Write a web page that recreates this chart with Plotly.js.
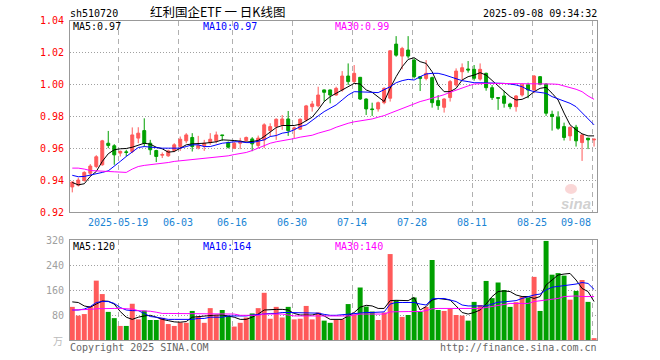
<!DOCTYPE html>
<html><head><meta charset="utf-8">
<script src="https://cdn.plot.ly/plotly-3.0.1.min.js"></script>
<style>html,body{margin:0;padding:0;background:#fff}#c{width:660px;height:360px}</style>
</head><body><div id="c"></div>
<script>
// ---- data ----
const tickLabels = ['2025-05-19','06-03','06-16','06-30','07-14','07-28','08-11','08-25','09-08'];
const tickIdx    = [8,18,27,37,47,57,67,77,87];

const open = [0.9357,0.9368,0.9398,0.9443,0.9485,0.9496,0.9631,0.9615,0.9569,0.9577,
0.9579,0.9663,0.9710,0.9631,0.9585,0.9556,0.9552,0.9585,0.9610,0.9646,
0.9667,0.9602,0.9615,0.9635,0.9646,0.9683,0.9635,0.9600,0.9631,0.9648,
0.9658,0.9617,0.9652,0.9710,0.9735,0.9746,0.9783,0.9719,0.9719,0.9777,
0.9860,0.9865,0.9965,0.9965,0.9933,0.9965,1.0052,1.0017,1.0044,0.9908,
0.9846,0.9846,0.9885,0.9913,1.0252,1.0177,1.0215,1.0152,1.0048,1.0037,
1.0042,0.9898,0.9856,0.9917,0.9996,1.0079,1.0096,1.0094,1.0033,1.0069,
0.9979,0.9917,0.9927,0.9877,0.9860,0.9933,0.9996,0.9965,1.0048,1.0002,
0.9812,0.9794,0.9735,0.9677,0.9731,0.9635,0.9663,0.9652];
const high = [0.9392,0.9415,0.9455,0.9500,0.9556,0.9652,0.9708,0.9625,0.9585,0.9590,
0.9730,0.9731,0.9787,0.9652,0.9590,0.9573,0.9590,0.9631,0.9673,0.9694,
0.9694,0.9677,0.9652,0.9694,0.9704,0.9683,0.9642,0.9640,0.9665,0.9673,
0.9669,0.9679,0.9756,0.9756,0.9787,0.9808,0.9833,0.9735,0.9787,0.9871,
0.9896,0.9985,0.9967,0.9967,0.9985,1.0083,1.0131,1.0121,1.0046,0.9912,
0.9885,0.9892,0.9981,1.0215,1.0302,1.0235,1.0302,1.0163,1.0048,1.0152,
1.0048,0.9933,0.9913,1.0027,1.0100,1.0131,1.0146,1.0121,1.0131,1.0073,
0.9996,0.9917,0.9960,0.9885,0.9933,1.0006,1.0010,1.0058,1.0052,1.0006,
0.9835,0.9831,0.9760,0.9735,0.9746,0.9690,0.9663,0.9660];
const low = [0.9323,0.9360,0.9390,0.9425,0.9475,0.9490,0.9600,0.9496,0.9548,0.9548,
0.9569,0.9631,0.9610,0.9558,0.9513,0.9538,0.9546,0.9575,0.9583,0.9631,
0.9579,0.9592,0.9583,0.9621,0.9631,0.9646,0.9598,0.9594,0.9594,0.9640,
0.9581,0.9600,0.9600,0.9673,0.9652,0.9715,0.9677,0.9663,0.9715,0.9767,
0.9829,0.9856,0.9892,0.9881,0.9929,0.9954,0.9996,1.0006,0.9902,0.9808,
0.9802,0.9829,0.9875,0.9892,1.0173,1.0094,1.0163,1.0037,0.9958,1.0025,
0.9854,0.9840,0.9823,0.9892,0.9985,1.0027,1.0073,1.0023,1.0023,0.9960,
0.9902,0.9840,0.9854,0.9844,0.9829,0.9923,0.9913,0.9944,0.9994,0.9802,
0.9710,0.9715,0.9648,0.9646,0.9610,0.9520,0.9594,0.9610];
const close = [0.9388,0.9400,0.9448,0.9488,0.9546,0.9646,0.9617,0.9558,0.9580,0.9573,
0.9683,0.9694,0.9631,0.9590,0.9548,0.9560,0.9583,0.9621,0.9656,0.9683,
0.9610,0.9617,0.9631,0.9656,0.9683,0.9679,0.9606,0.9631,0.9644,0.9667,
0.9627,0.9663,0.9746,0.9735,0.9781,0.9783,0.9710,0.9727,0.9781,0.9865,
0.9877,0.9933,0.9950,0.9933,0.9975,1.0052,1.0017,1.0069,0.9908,0.9846,
0.9842,0.9885,0.9975,1.0210,1.0183,1.0225,1.0177,1.0048,1.0037,1.0069,
0.9885,0.9867,0.9908,1.0017,1.0083,1.0104,1.0090,1.0038,1.0094,0.9979,
0.9917,0.9913,0.9881,0.9860,0.9927,0.9996,0.9965,1.0052,1.0002,0.9819,
0.9798,0.9725,0.9667,0.9731,0.9646,0.9683,0.9652,0.9656];

const ma5 = [0.9385,0.9370,0.9377,0.9423,0.9454,0.9517,0.9565,0.9590,0.9596,0.9598,
0.9606,0.9621,0.9631,0.9625,0.9606,0.9596,0.9575,0.9579,0.9600,0.9621,
0.9627,0.9627,0.9631,0.9635,0.9640,0.9652,0.9652,0.9648,0.9644,0.9638,
0.9642,0.9648,0.9673,0.9704,0.9729,0.9742,0.9742,0.9742,0.9750,0.9773,
0.9794,0.9840,0.9892,0.9923,0.9944,0.9965,0.9985,1.0006,1.0002,0.9965,
0.9950,0.9923,0.9892,0.9975,1.0048,1.0110,1.0156,1.0167,1.0142,1.0131,
1.0079,0.9996,0.9954,0.9954,0.9975,1.0027,1.0048,1.0058,1.0073,1.0058,
1.0023,0.9990,0.9954,0.9923,0.9902,0.9906,0.9923,0.9954,0.9975,0.9981,
0.9944,0.9902,0.9820,0.9746,0.9715,0.9690,0.9677,0.9677];
const ma10 = [0.9430,0.9421,0.9423,0.9430,0.9437,0.9448,0.9458,0.9485,0.9517,0.9548,
0.9579,0.9604,0.9610,0.9606,0.9600,0.9600,0.9600,0.9600,0.9600,0.9610,
0.9621,0.9621,0.9610,0.9610,0.9619,0.9631,0.9635,0.9640,0.9640,0.9635,
0.9635,0.9642,0.9652,0.9673,0.9679,0.9694,0.9700,0.9715,0.9735,0.9746,
0.9777,0.9802,0.9829,0.9850,0.9871,0.9902,0.9933,0.9954,0.9954,0.9950,
0.9950,0.9948,0.9965,0.9985,1.0010,1.0023,1.0031,1.0027,1.0048,1.0065,
1.0069,1.0069,1.0060,1.0048,1.0038,1.0023,1.0017,1.0010,1.0010,1.0010,
1.0010,1.0010,1.0006,1.0002,0.9996,0.9985,0.9965,0.9954,0.9950,0.9944,
0.9923,0.9908,0.9892,0.9881,0.9860,0.9823,0.9788,0.9746];
const ma30 = [0.9475,0.9475,0.9469,0.9460,0.9458,0.9454,0.9454,0.9452,0.9450,0.9448,
0.9469,0.9485,0.9492,0.9496,0.9500,0.9502,0.9510,0.9517,0.9521,0.9523,
0.9527,0.9531,0.9535,0.9540,0.9544,0.9548,0.9552,0.9560,0.9565,0.9573,
0.9585,0.9600,0.9615,0.9631,0.9640,0.9646,0.9652,0.9660,0.9669,0.9673,
0.9681,0.9694,0.9704,0.9715,0.9731,0.9746,0.9756,0.9765,0.9771,0.9777,
0.9783,0.9794,0.9804,0.9819,0.9833,0.9850,0.9865,0.9877,0.9892,0.9902,
0.9913,0.9923,0.9935,0.9950,0.9965,0.9979,0.9990,1.0002,1.0006,1.0006,
1.0006,1.0006,1.0006,1.0006,1.0006,1.0006,1.0006,1.0006,1.0006,1.0004,
1.0002,1.0000,0.9990,0.9981,0.9969,0.9954,0.9927,0.9906];

const volume = [106,78,83,108,190,147,90,70,45,45,116,66,94,64,64,71,51,45,56,55,
93,75,55,102,80,96,77,43,55,72,85,102,151,68,106,72,106,66,68,109,
66,88,62,55,64,66,115,82,168,107,91,64,88,275,127,74,80,136,91,106,
256,96,93,100,80,78,62,122,112,189,134,184,160,106,121,139,136,202,93,317,
209,214,206,129,157,192,122,6];
const vma5 = [122,120,109,105,115,125,124,115,91,73,66,73,77,79,73,66,62,58,57,59,
73,75,77,80,80,80,77,73,66,66,73,83,96,98,98,98,96,85,80,80,
80,85,77,66,66,66,77,88,105,111,109,101,101,126,127,126,126,136,96,107,
128,133,130,128,109,88,83,88,96,115,139,155,157,155,144,139,139,133,139,176,
192,208,211,213,192,165,155,123];
const vma10 = [96,96,99,107,120,123,123,117,104,96,94,94,85,75,73,69,66,66,66,66,
66,69,69,73,73,73,77,77,77,77,80,82,85,85,85,88,88,88,88,88,
88,86,82,79,79,81,83,85,88,88,88,88,90,115,120,120,120,120,115,112,
132,133,133,128,123,112,109,109,109,109,115,121,122,123,126,133,139,144,147,160,
169,171,173,176,179,184,181,162];
const vma30 = [96,96,96,98,100,101,101,101,101,101,99,94,94,92,89,85,85,85,85,85,
85,85,85,85,85,85,85,83,79,79,79,79,83,83,83,83,80,77,77,77,
77,77,77,75,75,75,77,80,83,83,83,83,83,90,91,91,91,91,91,94,
100,101,101,101,101,101,101,101,101,104,107,112,115,117,117,117,117,123,125,128,
130,133,139,141,141,139,139,139];

const priceTicks = [0.92,0.94,0.96,0.98,1.00,1.02,1.04];
const volTicks = [80,160,240,320];
const header = {code:'sh510720', title:'红利国企ETF 一 日K线图', time:'2025-09-08 09:34:32'};
const maLabels = ['MA5:0.97','MA10:0.97','MA30:0.99'];
const vmaLabels = ['MA5:120','MA10:164','MA30:140'];

// ---- drawing ----
const RED='#ff5a5a', GREEN='#00a000';
const idx = open.map((_, i) => i);
const volColors = open.map((o, i) => close[i] >= o ? RED : GREEN);
const W=660, H=360;
const px = x => x / W, py = y => 1 - y / H;
const MONO = 'DejaVu Sans Mono';

const traces = [
  {type:'candlestick', x:idx, open, high, low, close, xaxis:'x', yaxis:'y',
   increasing:{line:{color:RED,width:1}, fillcolor:RED},
   decreasing:{line:{color:GREEN,width:1}, fillcolor:GREEN},
   whiskerwidth:0, hoverinfo:'skip'},
  {type:'scatter', mode:'lines', x:idx, y:ma5, line:{color:'#000',width:1}, xaxis:'x', yaxis:'y', hoverinfo:'skip'},
  {type:'scatter', mode:'lines', x:idx, y:ma10, line:{color:'#0000ff',width:1}, xaxis:'x', yaxis:'y', hoverinfo:'skip'},
  {type:'scatter', mode:'lines', x:idx, y:ma30, line:{color:'#ff00ff',width:1}, xaxis:'x', yaxis:'y', hoverinfo:'skip'},
  {type:'bar', x:idx, y:volume, marker:{color:volColors, line:{width:0}}, width:0.83, xaxis:'x2', yaxis:'y2', hoverinfo:'skip'},
  {type:'scatter', mode:'lines', x:idx, y:vma5, line:{color:'#000',width:1}, xaxis:'x2', yaxis:'y2', hoverinfo:'skip'},
  {type:'scatter', mode:'lines', x:idx, y:vma10, line:{color:'#0000ff',width:1}, xaxis:'x2', yaxis:'y2', hoverinfo:'skip'},
  {type:'scatter', mode:'lines', x:idx, y:vma30, line:{color:'#ff00ff',width:1}, xaxis:'x2', yaxis:'y2', hoverinfo:'skip'}
];

const gridX = tickIdx.map(v => v - 0.33);
const xr = [-0.38, 87.49];
const xdom = [px(70), px(597)];
const xCommon = {range:xr, domain:xdom, tickmode:'array', tickvals:gridX, showticklabels:false, ticks:'',
  showgrid:true, gridcolor:'#b0b0b0', griddash:'5px,4px', gridwidth:1, zeroline:false,
  showline:true, linecolor:'#999', linewidth:1, mirror:true, fixedrange:true, rangeslider:{visible:false}};

const annotations = [];
const ann = (text, x, y, color, xanchor, size, family) => annotations.push({
  text, x, y, xref:'paper', yref:'paper', xanchor:xanchor||'left', yanchor:'middle', showarrow:false,
  font:{family:family||MONO, size:size||10, color:color||'#000'}, borderpad:0});

ann(header.code, px(69), py(14), '#000');
ann(header.title, px(149), py(11.5), '#000', 'left', 12.5, 'Noto Sans CJK SC');
ann(header.time, px(598), py(14), '#000', 'right');
const maColors = ['#000','#0000ff','#ff00ff'];
const maX = [72, 202, 334];
maLabels.forEach((t,k) => ann(t, px(maX[k]), py(26.5), maColors[k]));
vmaLabels.forEach((t,k) => ann(t, px(maX[k]), py(246), maColors[k]));
tickLabels.forEach((t,k) => {
  const last = k === tickLabels.length - 1;
  annotations.push({text:t, x:gridX[k], y:py(222), xref:'x', yref:'paper', xanchor: last ? 'right' : 'center',
    yanchor:'middle', showarrow:false, borderpad:0, font:{family:MONO, size:10, color:'#1a84d4'}});
});
ann('Copyright 2025 SINA.COM', px(69), py(347), '#666');
ann('http://finance.sina.com.cn', px(598), py(347), '#666', 'right');
ann('万', px(64), py(340), '#bbb', 'right', 10, 'Noto Sans CJK SC');
ann('<b><i>sina</i></b>', px(576), py(203), 'rgba(170,170,170,0.55)', 'center', 15, 'Liberation Sans');

const layout = {
  width:W, height:H, margin:{l:0,r:0,t:0,b:0}, paper_bgcolor:'#fff', plot_bgcolor:'#fff',
  showlegend:false, hovermode:false, dragmode:false, boxgap:0.3,
  xaxis: Object.assign({}, xCommon, {anchor:'y'}),
  xaxis2: Object.assign({}, xCommon, {anchor:'y2'}),
  yaxis: {domain:[py(212), py(20.5)], range:[0.92,1.04], tickmode:'array', tickvals:priceTicks,
    ticktext:priceTicks.map(v => v.toFixed(2)), tickfont:{family:MONO,size:10,color:'#ff0000'},
    showgrid:true, gridcolor:'#a0a0a0', griddash:'1px,2px', zeroline:false, ticks:'outside', ticklen:3, tickcolor:'rgba(0,0,0,0)',
    showline:true, linecolor:'#999', mirror:true, fixedrange:true, anchor:'x'},
  yaxis2: {domain:[py(340), py(240)], range:[0,320], tickmode:'array', tickvals:volTicks,
    ticktext:volTicks.map(String), tickfont:{family:MONO,size:10,color:'#a0a0a0'},
    showgrid:true, gridcolor:'#a0a0a0', griddash:'1px,2px', zeroline:false, ticks:'outside', ticklen:3, tickcolor:'rgba(0,0,0,0)',
    showline:true, linecolor:'#999', mirror:true, fixedrange:true, anchor:'x2'},
  annotations,
  shapes:[{type:'circle', xref:'paper', yref:'paper', x0:px(565), x1:px(577), y0:py(194), y1:py(184),
    fillcolor:'rgba(240,140,140,0.35)', line:{width:0}}]
};
Plotly.newPlot('c', traces, layout, {staticPlot:true, displayModeBar:false});
</script></body></html>
